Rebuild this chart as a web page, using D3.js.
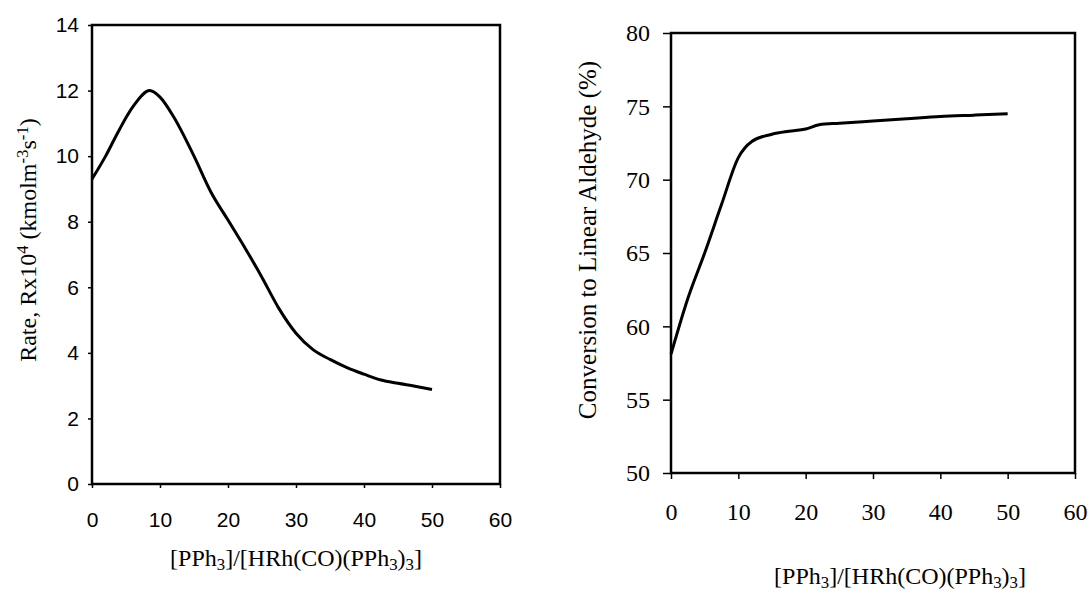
<!DOCTYPE html>
<html>
<head>
<meta charset="utf-8">
<script src="https://cdn.jsdelivr.net/npm/d3@7"></script>
<style>
  body { margin: 0; background: #fff; }
  svg { display: block; }
</style>
</head>
<body>
<script>
// ratio [PPh3]/[HRh(CO)(PPh3)3]
var rateX = [0, 2, 4, 6, 8.5, 10, 12, 15, 17.5, 20, 22.5, 25, 27.5, 30, 32.5, 35, 37.5, 40, 42.5, 45, 47.5, 50];
var rateY = [9.3, 10.0, 10.8, 11.5, 12.0, 11.8, 11.2, 10.0, 8.9, 8.05, 7.2, 6.3, 5.35, 4.6, 4.1, 3.8, 3.55, 3.35, 3.17, 3.07, 2.98, 2.88];

var convX = [0, 2.5, 5, 7.5, 10, 12, 15, 17.5, 20, 22, 25, 30, 35, 40, 45, 50];
var convY = [58.1, 61.9, 65.0, 68.3, 71.5, 72.6, 73.1, 73.3, 73.45, 73.75, 73.85, 74.0, 74.15, 74.3, 74.4, 74.5];

var xTicks = [0, 10, 20, 30, 40, 50, 60];
var rateTicks = [0, 2, 4, 6, 8, 10, 12, 14];
var convTicks = [50, 55, 60, 65, 70, 75, 80];

var svg = d3.select("body").append("svg")
    .attr("width", 1092)
    .attr("height", 594);

function panel(opt) {
    var x = d3.scaleLinear().domain([0, 60]).range([opt.left, opt.right]);
    var y = d3.scaleLinear().domain(opt.yDomain).range([opt.bottom, opt.top]);
    var g = svg.append("g");

    g.append("g")
        .attr("transform", "translate(0," + opt.bottom + ")")
        .call(d3.axisBottom(x).tickValues(xTicks).tickSize(opt.xTickSize).tickPadding(opt.xPad))
        .call(function(a){
            a.select(".domain").remove();
            a.selectAll("line").attr("stroke", "#000").attr("stroke-width", 1.5);
            a.selectAll("text").attr("font-family", opt.tickFont).attr("font-size", opt.tickSize).attr("fill", "#000");
        });

    g.append("g")
        .attr("transform", "translate(" + opt.left + ",0)")
        .call(d3.axisLeft(y).tickValues(opt.yTicks).tickSize(opt.yTickSize).tickPadding(opt.yPad))
        .call(function(a){
            a.select(".domain").remove();
            a.selectAll("line").attr("stroke", "#000").attr("stroke-width", 1.5);
            a.selectAll("text").attr("font-family", opt.tickFont).attr("font-size", opt.tickSize).attr("fill", "#000");
        });

    g.append("rect")
        .attr("x", opt.left).attr("y", opt.top)
        .attr("width", opt.right - opt.left).attr("height", opt.bottom - opt.top)
        .attr("fill", "none").attr("stroke", "#000").attr("stroke-width", 2.5);

    var line = d3.line()
        .x(function(d){ return x(d[0]); })
        .y(function(d){ return y(d[1]); })
        .curve(d3.curveMonotoneX);

    g.append("path")
        .datum(opt.xs.map(function(v, i){ return [v, opt.ys[i]]; }))
        .attr("d", line)
        .attr("fill", "none").attr("stroke", "#000").attr("stroke-width", 3);

    // x title with subscripts
    var xt = g.append("text")
        .attr("x", opt.xTitleX).attr("y", opt.xTitleY)
        .attr("text-anchor", "middle")
        .attr("font-family", "Liberation Serif, Times New Roman, serif")
        .attr("font-size", opt.xTitleSize);
    [["[PPh", 0], ["3", 1], ["]/[HRh(CO)(PPh", 0], ["3", 1], [")", 0], ["3", 1], ["]", 0]].forEach(function(p){
        xt.append("tspan").text(p[0])
            .attr("font-size", p[1] ? "70%" : null)
            .attr("baseline-shift", p[1] ? "-25%" : null);
    });

    var yt = g.append("text")
        .attr("transform", "translate(" + opt.yTitleX + "," + opt.yTitleY + ") rotate(-90)")
        .attr("text-anchor", "middle")
        .attr("font-family", "Liberation Serif, Times New Roman, serif")
        .attr("font-size", opt.yTitleSize);
    opt.yTitle.forEach(function(p){
        yt.append("tspan").text(p[0])
            .attr("font-size", p[1] ? "70%" : null)
            .attr("baseline-shift", p[1] ? "45%" : null);
    });
}

panel({
    left: 92, right: 500, top: 25, bottom: 484,
    yDomain: [0, 14], yTicks: rateTicks,
    xs: rateX, ys: rateY,
    tickFont: "Liberation Sans, Arial, sans-serif", tickSize: 21,
    xTickSize: 4, xPad: 24, yTickSize: 4, yPad: 9,
    xTitleX: 296, xTitleY: 566, xTitleSize: 24,
    yTitleX: 36, yTitleY: 240, yTitleSize: 24,
    yTitle: [["Rate, Rx10", 0], ["4", 1], [" (kmolm", 0], ["-3", 1], ["s", 0], ["-1", 1], [")", 0]]
});

panel({
    left: 671, right: 1075, top: 33, bottom: 473,
    yDomain: [50, 80], yTicks: convTicks,
    xs: convX, ys: convY,
    tickFont: "Liberation Serif, Times New Roman, serif", tickSize: 24,
    xTickSize: 6, xPad: 24, yTickSize: 8, yPad: 13,
    xTitleX: 900, xTitleY: 584, xTitleSize: 24,
    yTitleX: 596, yTitleY: 240, yTitleSize: 25,
    yTitle: [["Conversion to Linear Aldehyde (%)", 0]]
});
</script>
</body>
</html>
